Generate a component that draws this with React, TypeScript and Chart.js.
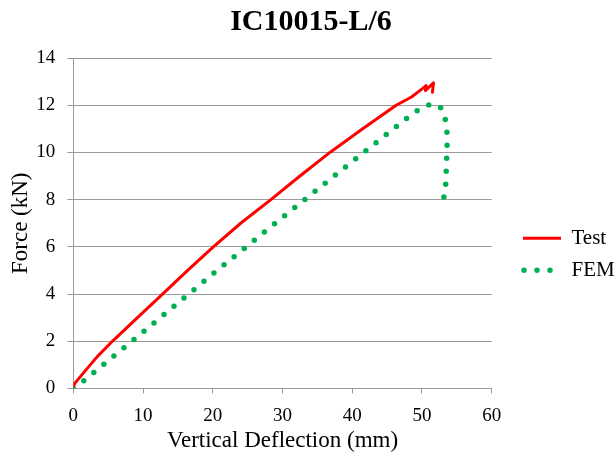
import React, { useEffect, useRef } from "react";
import { Chart, registerables } from "chart.js";

Chart.register(...registerables);

const chartTitle = "IC10015-L/6";
const xTitle = "Vertical Deflection (mm)";
const yTitle = "Force (kN)";

const testLabel = "Test";
const testX = [0, 0.3, 1.4, 3.4, 5.6, 9.2, 12.8, 16.4, 20.0, 24, 28.2, 32.5, 36.8, 41.5, 46.3, 48.5, 49.7, 50.6, 50.5, 51.65, 51.5];
const testY = [0.1, 0.25, 0.64, 1.34, 2.0, 3.0, 4.0, 5.0, 5.98, 7.0, 7.97, 9.0, 10.0, 11.0, 12.0, 12.35, 12.62, 12.83, 12.62, 12.95, 12.55];

const femLabel = "FEM";
const femX = [0, 1.6, 10.2, 20.2, 30.3, 39.1, 42.0, 44.9, 47.8, 49.4, 51.3, 52.9, 53.4, 53.6, 53.6, 53.5, 53.4, 53.1];
const femY = [0, 0.35, 2.44, 4.9, 7.32, 9.4, 10.08, 10.76, 11.44, 11.78, 12.06, 11.86, 11.34, 10.8, 10.2, 9.4, 8.6, 8.02];

const xMin = 0, xMax = 60, xStep = 10;
const yMin = 0, yMax = 14, yStep = 2;

const FONT = "'Liberation Serif', 'Times New Roman', serif";
const GRID = "#9a9a9a";

export default function App() {
  const ref = useRef<HTMLCanvasElement | null>(null);

  useEffect(() => {
    if (!ref.current) return;
    const toPts = (xs: number[], ys: number[]) => xs.map((x, i) => ({ x, y: ys[i] }));
    const chart = new Chart(ref.current, {
      type: "scatter",
      data: {
        datasets: [
          {
            label: testLabel,
            data: toPts(testX, testY),
            showLine: true,
            borderColor: "#ff0000",
            backgroundColor: "#ff0000",
            borderWidth: 3,
            borderJoinStyle: "round",
            borderCapStyle: "round",
            pointRadius: 0,
            pointHoverRadius: 0,
            xAxisID: "x",
            yAxisID: "y",
          } as any,
          {
            label: femLabel,
            data: toPts(femX, femY),
            showLine: true,
            borderColor: "#00b050",
            backgroundColor: "#00b050",
            borderWidth: 5.5,
            borderDash: [0, 13],
            borderCapStyle: "round",
            borderJoinStyle: "round",
            pointRadius: 0,
            pointHoverRadius: 0,
            xAxisID: "x",
            yAxisID: "y",
          } as any,
        ],
      },
      options: {
        animation: false,
        responsive: false,
        devicePixelRatio: 1,
        layout: { padding: { left: 6, right: 0, top: 0, bottom: 0 } },
        plugins: {
          title: {
            display: true,
            text: chartTitle,
            color: "#000",
            font: { family: FONT, size: 30, weight: "bold" },
            padding: { top: 4, bottom: 18 },
          },
          tooltip: { enabled: false },
          legend: {
            display: true,
            position: "right",
            maxWidth: 104,
            title: { display: true, text: "", padding: { top: 39, bottom: 0 } },
            labels: {
              usePointStyle: true,
              pointStyle: "line",
              pointStyleWidth: 38,
              boxHeight: 21,
              padding: 11,
              color: "#000",
              font: { family: FONT, size: 21 },
              generateLabels: (c: any) =>
                c.data.datasets.map((ds: any, i: number) => ({
                  text: ds.label,
                  fillStyle: "rgba(0,0,0,0)",
                  strokeStyle: ds.borderColor,
                  lineWidth: ds.borderWidth,
                  lineDash: ds.borderDash || [],
                  lineDashOffset: ds.borderDash ? 12 : 0,
                  lineCap: ds.borderDash ? "round" : "butt",
                  pointStyle: "line",
                  hidden: false,
                  datasetIndex: i,
                  fontColor: "#000",
                })),
            },
          },
        },
        scales: {
          x: {
            type: "linear",
            position: "bottom",
            min: xMin,
            max: xMax,
            grid: { display: true, drawOnChartArea: false, drawTicks: true, tickLength: 5, color: GRID, lineWidth: 1 },
            border: { display: true, color: GRID, width: 1 },
            ticks: { stepSize: xStep, color: "#000", padding: 11, font: { family: FONT, size: 19 } },
            title: { display: true, text: xTitle, color: "#000", font: { family: FONT, size: 23 }, padding: { top: 0, bottom: 0 } },
            afterFit: (s: any) => {
              s.height = 66.5;
            },
          },
          y: {
            type: "linear",
            position: "left",
            min: yMin,
            max: yMax,
            grid: { display: true, drawOnChartArea: true, drawTicks: true, tickLength: 6, color: GRID, lineWidth: 1 },
            border: { display: true, color: GRID, width: 1 },
            ticks: { stepSize: yStep, color: "#000", padding: 12, font: { family: FONT, size: 19 } },
            title: { display: true, text: yTitle, color: "#000", font: { family: FONT, size: 23 }, padding: { top: 1, bottom: 0 } },
            afterFit: (s: any) => {
              s.width = 67.3;
            },
          },
          gap: {
            type: "linear",
            axis: "y",
            position: "right",
            display: true,
            grid: { display: false, drawTicks: false },
            border: { display: false },
            ticks: { display: false },
            title: { display: false },
            afterFit: (s: any) => {
              s.width = 20.3;
            },
          } as any,
        },
      } as any,
    });
    return () => chart.destroy();
  }, []);

  return (
    <div style={{ position: "fixed", left: 0, top: 0, width: 616, height: 455, background: "#fff" }}>
      <canvas ref={ref} width={616} height={455} style={{ display: "block", width: 616, height: 455 }} />
    </div>
  );
}
